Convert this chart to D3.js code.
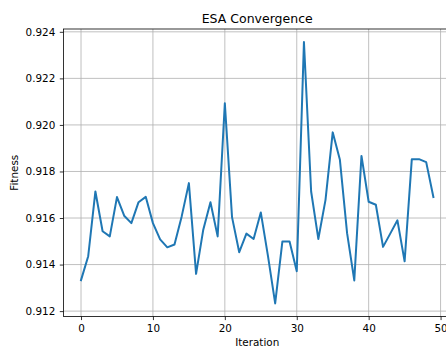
<!DOCTYPE html>
<html>
<head>
<meta charset="utf-8">
<script src="https://cdn.jsdelivr.net/npm/d3@7"></script>
<style>
  body { margin: 0; background: #fff; }
  svg { display: block; font-family: "DejaVu Sans", sans-serif; }
</style>
</head>
<body>
<div id="chart"></div>
<script>
// Fitness per iteration
const iterations = d3.range(0, 50);
const fitness = [
  0.91333, 0.91436, 0.91714, 0.91543, 0.91521, 0.91690, 0.91610, 0.91578, 0.91668, 0.91691,
  0.91578, 0.91508, 0.91474, 0.91486, 0.91607, 0.91750, 0.91360, 0.91550, 0.91668, 0.91521,
  0.92093, 0.91604, 0.91453, 0.91533, 0.91510, 0.91624, 0.91436, 0.91233, 0.91499, 0.91499,
  0.91371, 0.92356, 0.91714, 0.91510, 0.91678, 0.91968, 0.91850, 0.91535, 0.91332, 0.91867,
  0.91670, 0.91657, 0.91476, 0.91533, 0.91590, 0.91414, 0.91853, 0.91853, 0.91840, 0.91690
];
const xTicks = [0, 10, 20, 30, 40, 50];
const yTicks = [0.912, 0.914, 0.916, 0.918, 0.920, 0.922, 0.924];

const width = 446, height = 350;
const plotL = 63.4, plotR = 451, plotT = 29, plotB = 316.5;

const svg = d3.select("#chart").append("svg")
    .attr("width", width)
    .attr("height", height);

// matplotlib style 5% margins
const xPad = (d3.max(iterations) - d3.min(iterations)) * 0.05;
const x = d3.scaleLinear()
    .domain([d3.min(iterations) - xPad, d3.max(iterations) + xPad])
    .range([plotL, plotR]);

const [yMin, yMax] = d3.extent(fitness);
const yPad = (yMax - yMin) * 0.05;
const y = d3.scaleLinear()
    .domain([yMin - yPad, yMax + yPad])
    .range([plotB, plotT]);

// grid
const grid = svg.append("g").attr("stroke", "#b0b0b0").attr("stroke-width", 0.8);
grid.selectAll(".gx").data(xTicks).join("line")
    .attr("x1", d => x(d)).attr("x2", d => x(d))
    .attr("y1", plotT).attr("y2", plotB);
grid.selectAll(".gy").data(yTicks).join("line")
    .attr("x1", plotL).attr("x2", plotR)
    .attr("y1", d => y(d)).attr("y2", d => y(d));

// line
svg.append("path")
    .datum(fitness)
    .attr("fill", "none")
    .attr("stroke", "#1f77b4")
    .attr("stroke-width", 2)
    .attr("stroke-linejoin", "round")
    .attr("stroke-linecap", "square")
    .attr("d", d3.line().x((d, i) => x(iterations[i])).y(d => y(d)));

// axes
const xAxis = svg.append("g")
    .attr("transform", `translate(0,${plotB})`)
    .call(d3.axisBottom(x).tickValues(xTicks).tickSize(3.6).tickPadding(4.5).tickFormat(d3.format("d")));
const yAxis = svg.append("g")
    .attr("transform", `translate(${plotL},0)`)
    .call(d3.axisLeft(y).tickValues(yTicks).tickSize(3.6).tickPadding(4.5).tickFormat(d3.format(".3f")));

[xAxis, yAxis].forEach(a => {
    a.select(".domain").remove();
    a.selectAll("line").attr("stroke", "#000").attr("stroke-width", 0.8);
    a.selectAll("text").attr("fill", "#000").style("font-size", "10.4px")
        .style("font-family", "'DejaVu Sans', sans-serif");
});

// spines
svg.append("rect")
    .attr("x", plotL).attr("y", plotT)
    .attr("width", plotR - plotL).attr("height", plotB - plotT)
    .attr("fill", "none").attr("stroke", "#000").attr("stroke-width", 0.8);

// labels
svg.append("text")
    .attr("x", (plotL + plotR) / 2).attr("y", 22.5)
    .attr("text-anchor", "middle")
    .style("font-size", "12.5px")
    .text("ESA Convergence");

svg.append("text")
    .attr("x", (plotL + plotR) / 2).attr("y", 346)
    .attr("text-anchor", "middle")
    .style("font-size", "10.4px")
    .text("Iteration");

svg.append("text")
    .attr("transform", `translate(18,${(plotT + plotB) / 2}) rotate(-90)`)
    .attr("text-anchor", "middle")
    .style("font-size", "10.4px")
    .text("Fitness");
</script>
</body>
</html>
